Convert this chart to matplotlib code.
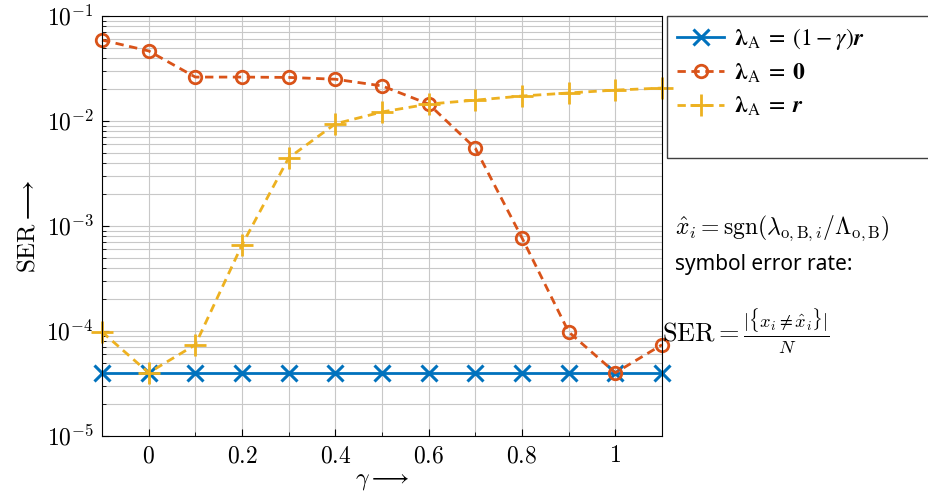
import numpy as np
import matplotlib.pyplot as plt
from matplotlib.patches import Rectangle
from matplotlib.ticker import LogLocator, MultipleLocator, NullFormatter, FuncFormatter

plt.rcParams['mathtext.fontset'] = 'cm'
plt.rcParams['font.family'] = ['Noto Sans', 'DejaVu Sans']

# data
gamma = [-0.1, 0.0, 0.1, 0.2, 0.3, 0.4, 0.5, 0.6, 0.7, 0.8, 0.9, 1.0, 1.1]
ser_scaled = [4.0e-5] * 13
ser_zero = [0.059, 0.0465, 0.0262, 0.0262, 0.026, 0.025, 0.0216, 0.0145,
            0.0055, 7.7e-4, 9.8e-5, 4.0e-5, 7.4e-5]
ser_r = [9.8e-5, 4.0e-5, 7.4e-5, 6.6e-4, 4.45e-3, 9.4e-3, 0.0122, 0.0145,
         0.0158, 0.0173, 0.0185, 0.0197, 0.0206]
labels = [r'$\boldsymbol{\lambda}_{\mathrm{A}} \;=\; (1-\gamma)\boldsymbol{r}$',
          r'$\boldsymbol{\lambda}_{\mathrm{A}} \;=\; \mathbf{0}$',
          r'$\boldsymbol{\lambda}_{\mathrm{A}} \;=\; \boldsymbol{r}$']
xtick_vals = [0, 0.2, 0.4, 0.6, 0.8, 1.0]
xtick_labels = [r'$0$', r'$0.2$', r'$0.4$', r'$0.6$', r'$0.8$', r'$1$']

blue = '#0072bd'
orange = '#d95319'
yellow = '#edb120'

fig = plt.figure(figsize=(9.29, 4.91), dpi=100)
ax = fig.add_axes([0.1098, 0.112, 0.6028, 0.8554])

ax.plot(gamma, ser_scaled, color=blue, lw=2, marker='x', ms=11, mew=2.2,
        label=labels[0], clip_on=False)
ax.plot(gamma, ser_zero, color=orange, lw=2, ls=(0, (3, 2)), marker='o', ms=9,
        mew=2, mfc='none', label=labels[1], clip_on=False)
ax.plot(gamma, ser_r, color=yellow, lw=2, ls=(0, (3, 2)), marker='+', ms=16,
        mew=2, label=labels[2], clip_on=False)

ax.set_yscale('log')
ax.set_xlim(-0.1, 1.1)
ax.set_ylim(1e-5, 1e-1)
ax.xaxis.set_minor_locator(MultipleLocator(0.1))
ax.set_xticks(xtick_vals)
ax.set_xticklabels(xtick_labels)
ax.yaxis.set_major_locator(LogLocator(base=10, numticks=10))
ax.yaxis.set_major_formatter(FuncFormatter(lambda v, p: r'$10^{%d}$' % round(np.log10(v))))
ax.yaxis.set_minor_locator(LogLocator(base=10, subs=np.arange(2, 10), numticks=10))
ax.yaxis.set_minor_formatter(NullFormatter())
ax.tick_params(which='both', direction='in', labelsize=17, top=False, right=False)
ax.tick_params(axis='x', which='minor', length=0)
ax.tick_params(which='major', length=5, pad=6)
ax.tick_params(which='minor', length=3)
ax.grid(True, which='both', color='#c8c8c8', lw=0.8)
ax.set_axisbelow(True)

ax.set_xlabel(r'$\gamma \longrightarrow$', fontsize=17, labelpad=0)
ax.set_ylabel(r'$\mathrm{SER} \longrightarrow$', fontsize=18, labelpad=4)

# legend box drawn by hand so it reaches the figure edge like the reference
box = Rectangle((667 / 929, 1 - 158 / 491), 0.31, 142 / 491, transform=fig.transFigure,
                fill=False, edgecolor='#404040', lw=1.0, clip_on=False)
fig.patches.append(box)
leg = ax.legend(loc='upper left', bbox_to_anchor=(677 / 929, 1 - 26 / 491),
                bbox_transform=fig.transFigure, frameon=False,
                prop={'size': 17, 'math_fontfamily': 'stix'},
                borderaxespad=0, borderpad=0, handlelength=2.0,
                handletextpad=0.4, labelspacing=0.4)

fig.text(0.727, 0.535, r'$\hat{x}_i = \mathrm{sgn}(\lambda_{\mathrm{o,B},i}/\Lambda_{\mathrm{o,B}})$',
         fontsize=17, va='center')
fig.text(0.727, 0.462, 'symbol error rate:', fontsize=15, va='center')
fig.text(0.713, 0.325, r'$\mathrm{SER} = \frac{|\{x_i \neq \hat{x}_i\}|}{N}$',
         fontsize=19, va='center')

fig.savefig('out.png', dpi=100)
